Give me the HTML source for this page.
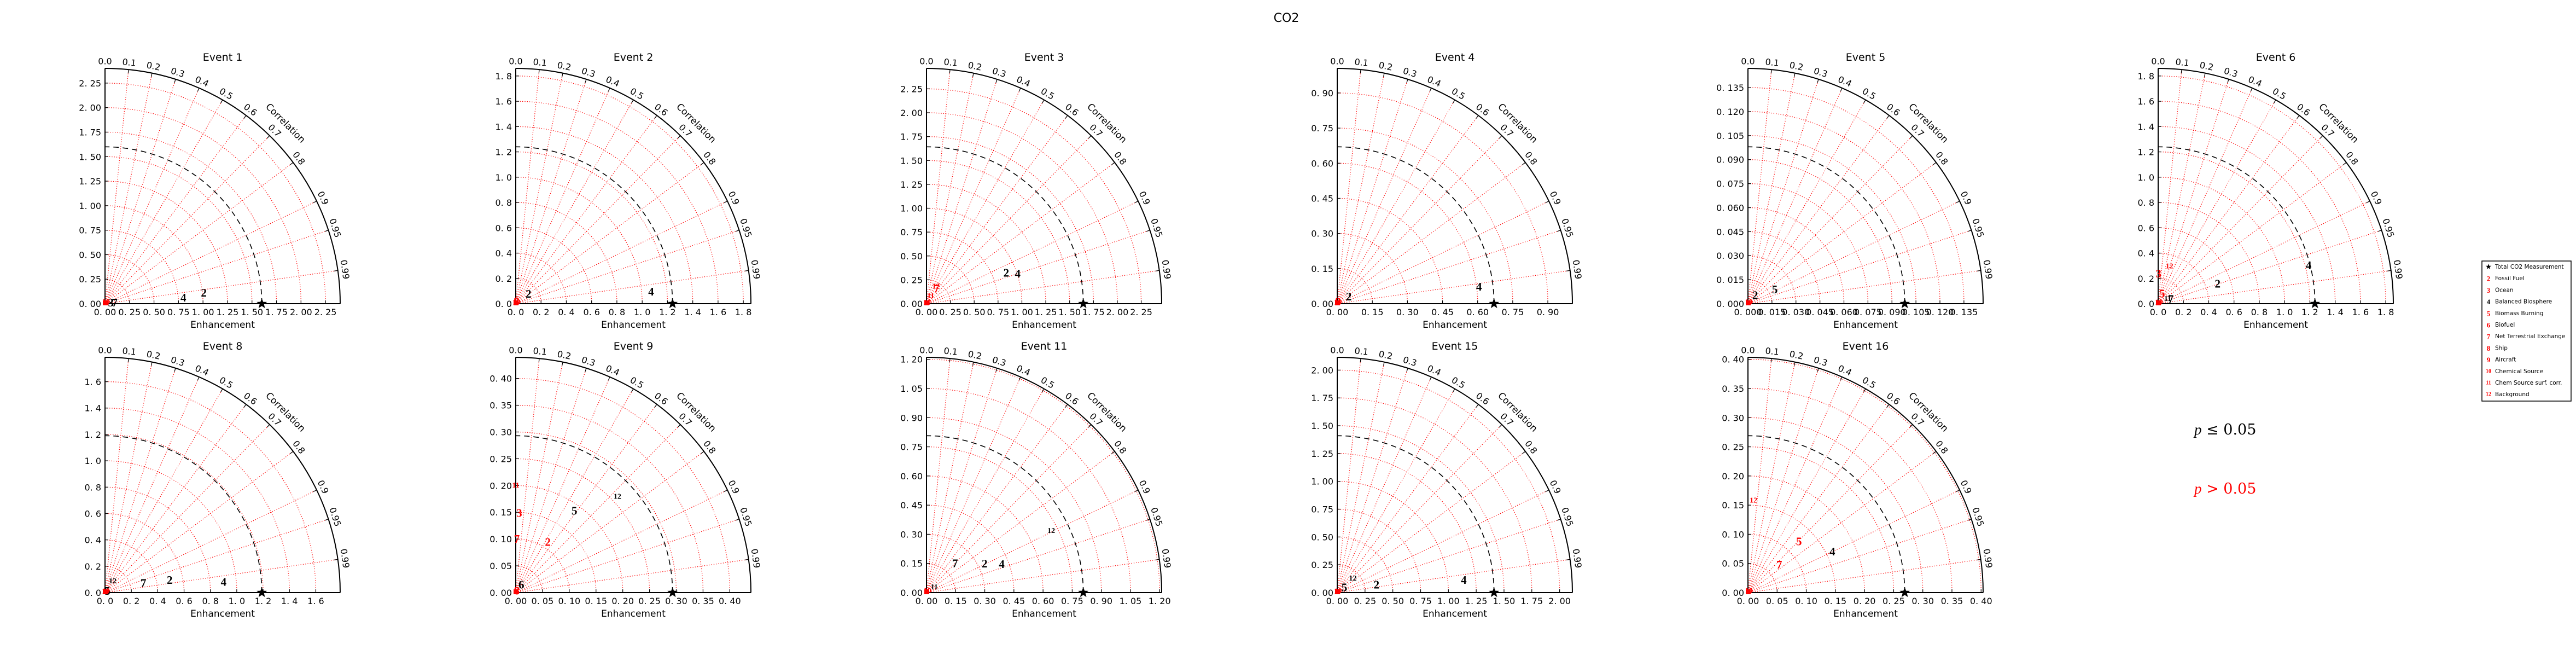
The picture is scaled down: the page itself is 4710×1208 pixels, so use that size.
<!DOCTYPE html>
<html><head><meta charset="utf-8"><title>CO2 Taylor diagrams</title>
<style>
html,body{margin:0;padding:0;background:#fff;}
svg{display:block;}
text{font-family:"DejaVu Sans","Liberation Sans",sans-serif;}
.num{font-family:"Liberation Serif","DejaVu Serif",serif;font-weight:bold;}
</style></head>
<body>
<svg id="chart" xmlns="http://www.w3.org/2000/svg" width="4710" height="1208" viewBox="0 0 4710 1208">
<rect x="0" y="0" width="4710" height="1208" fill="#fff"/>
<text x="2352" y="40" font-size="22" text-anchor="middle">CO2</text>
<g id="plots"></g>
<g id="legend"></g>
<text x="4012" y="794" font-size="27"><tspan font-family="Liberation Serif" font-style="italic">p</tspan><tspan font-family="DejaVu Serif"> ≤ 0.05</tspan></text>
<text x="4012" y="902" font-size="27" fill="#ff0000"><tspan font-family="Liberation Serif" font-style="italic">p</tspan><tspan font-family="DejaVu Serif"> &gt; 0.05</tspan></text>
</svg>
<script>
// ---- data ----
const eventNames = ["Event 1","Event 2","Event 3","Event 4","Event 5","Event 6","Event 8","Event 9","Event 11","Event 15","Event 16"];
const refStd = [1.6, 1.24, 1.643, 0.67, 0.098, 1.24, 1.19, 0.293, 0.807, 1.41, 0.269];
const tickStep = [0.25, 0.2, 0.25, 0.15, 0.015, 0.2, 0.2, 0.05, 0.15, 0.25, 0.05];
const tickDecimals = [2, 1, 2, 2, 3, 1, 1, 2, 2, 2, 2];
const corrTicks = [0, 0.1, 0.2, 0.3, 0.4, 0.5, 0.6, 0.7, 0.8, 0.9, 0.95, 0.99];
const corrTickLabels = ["0.0","0.1","0.2","0.3","0.4","0.5","0.6","0.7","0.8","0.9","0.95","0.99"];

const ptLabels = [
  ["2","4","3","7","11","10"],
  ["2","4","10","8"],
  ["2","4","12","7","11","10"],
  ["4","2","10","8"],
  ["5","2","10"],
  ["4","2","12","3","5","11","7","10"],
  ["4","2","7","12","5","10"],
  ["12","5","2","3","7","11","6","8"],
  ["12","4","2","7","11","10"],
  ["4","2","12","5","10"],
  ["4","5","7","12","10"]
];
const ptStd = [
  [1.014, 0.802, 0.061, 0.10, 0.011, 0.02],
  [0.127, 1.075, 0.01, 0.02],
  [0.897, 1.006, 0.204, 0.19, 0.088, 0.01],
  [0.61, 0.058, 0.005, 0.01],
  [0.019, 0.007, 0.001],
  [1.228, 0.496, 0.308, 0.237, 0.085, 0.084, 0.106, 0.01],
  [0.904, 0.50, 0.30, 0.103, 0.022, 0.01],
  [0.261, 0.188, 0.112, 0.149, 0.10, 0.20, 0.018, 0.004],
  [0.716, 0.414, 0.334, 0.21, 0.048, 0.01],
  [1.144, 0.361, 0.188, 0.079, 0.01],
  [0.161, 0.124, 0.072, 0.158, 0.003]
];
const ptCorr = [
  [0.994, 0.997, 0.98, 0.993, 0.9, 0.5],
  [0.79, 0.996, 0.5, 0.3],
  [0.932, 0.95, 0.49, 0.55, 0.5, 0.5],
  [0.993, 0.85, 0.5, 0.3],
  [0.883, 0.65, 0.5],
  [0.969, 0.948, 0.29, 0.013, 0.37, 0.9, 0.94, 0.5],
  [0.996, 0.982, 0.97, 0.57, 0.85, 0.5],
  [0.728, 0.582, 0.535, 0.044, 0.02, 0.0, 0.58, 0.5],
  [0.897, 0.935, 0.895, 0.70, 0.84, 0.5],
  [0.995, 0.98, 0.745, 0.81, 0.5],
  [0.899, 0.706, 0.747, 0.06, 0.5]
];
const ptSig = [
  [1,1,1,1,0,0],
  [1,1,0,0],
  [1,1,0,0,0,0],
  [1,1,0,0],
  [1,1,0],
  [1,1,0,0,0,1,1,0],
  [1,1,1,1,1,0],
  [1,1,0,0,0,0,1,0],
  [1,1,1,1,1,0],
  [1,1,1,1,0],
  [1,0,0,0,0]
];
const legendLabels = ["Total CO2 Measurement","Fossil Fuel","Ocean","Balanced Biosphere","Biomass Burning","Biofuel","Net Terrestrial Exchange","Ship","Aircraft","Chemical Source","Chem Source surf. corr.","Background"];
const legendMarkers = ["★","2","3","4","5","6","7","8","9","10","11","12"];
const legendRed = [0,1,1,0,1,1,1,1,1,1,1,1];

// ---- layout ----
const NS = "http://www.w3.org/2000/svg";
const R = 430;
const colX = [192, 943, 1694, 2445, 3196, 3946];
const rowY = [555, 1083];
const RED = "#ff0000";

function mk(tag, attrs, parent) {
  const e = document.createElementNS(NS, tag);
  for (const k in attrs) e.setAttribute(k, attrs[k]);
  parent.appendChild(e);
  return e;
}
function starPts(cx, cy, ro, ri) {
  const p = [];
  for (let i = 0; i < 10; i++) {
    const a = -Math.PI / 2 + i * Math.PI / 5;
    const r = i % 2 ? ri : ro;
    p.push((cx + r * Math.cos(a)).toFixed(1) + "," + (cy + r * Math.sin(a)).toFixed(1));
  }
  return p.join(" ");
}

const plots = document.getElementById("plots");
eventNames.forEach((name, i) => {
  const ox = i < 6 ? colX[i] : colX[i - 6];
  const oy = i < 6 ? rowY[0] : rowY[1];
  const maxR = refStd[i] * 1.5;
  const sc = R / maxR;
  const px = (s, c) => ox + s * c * sc;
  const py = (s, c) => oy - s * Math.sqrt(Math.max(0, 1 - c * c)) * sc;
  const g = mk("g", {}, plots);
  
  

  const t = mk("text", {x: ox + R / 2, y: oy - R - 14, "font-size": 19, "text-anchor": "middle"}, g);
  t.textContent = name;
  
  

  const ticks = [];
  for (let k = 0; k * tickStep[i] <= maxR + 1e-9; k++) ticks.push(k * tickStep[i]);

  ticks.forEach(v => {
    if (v <= 0) return;
    const rr = v * sc;
    const a = mk("path", {d: `M${ox + rr},${oy} A${rr},${rr} 0 0 0 ${ox},${oy - rr}`, fill: "none", stroke: RED, "stroke-width": 1.3, "stroke-dasharray": "1.3 3"}, g);
    
    
  });
  corrTicks.forEach(c => {
    if (c === 0) return;
    const l = mk("line", {x1: ox, y1: oy, x2: px(maxR, c), y2: py(maxR, c), stroke: RED, "stroke-width": 1.3, "stroke-dasharray": "1.3 3"}, g);
    
    
  });
  const rr = refStd[i] * sc;
  const da = mk("path", {d: `M${ox + rr},${oy} A${rr},${rr} 0 0 0 ${ox},${oy - rr}`, fill: "none", stroke: "#000", "stroke-width": 1.6, "stroke-dasharray": "10 7"}, g);
  
  

  const outer = mk("path", {d: `M${ox + R},${oy} A${R},${R} 0 0 0 ${ox},${oy - R}`, fill: "none", stroke: "#000", "stroke-width": 2}, g);
  
  
  const xa = mk("line", {x1: ox, y1: oy, x2: ox + R, y2: oy, stroke: "#000", "stroke-width": 2}, g);
  
  
  const ya = mk("line", {x1: ox, y1: oy, x2: ox, y2: oy - R, stroke: "#000", "stroke-width": 2}, g);
  
  

  ticks.forEach(v => {
    const lab = v.toFixed(tickDecimals[i]).replace(".", ". ");
    const xx = ox + v * sc, yy = oy - v * sc;
    mk("line", {x1: xx, y1: oy, x2: xx, y2: oy - 6, stroke: "#000", "stroke-width": 1.2}, g);
    mk("line", {x1: ox, y1: yy, x2: ox + 6, y2: yy, stroke: "#000", "stroke-width": 1.2}, g);
    const tx = mk("text", {x: xx, y: oy + 21, "font-size": 16, "text-anchor": "middle"}, g);
    tx.textContent = lab;
    
    
    const ty = mk("text", {x: ox - 7, y: yy + 6, "font-size": 16, "text-anchor": "end"}, g);
    ty.textContent = lab;
    
    
  });
  const xl = mk("text", {x: ox + R / 2, y: oy + 44, "font-size": 17, "text-anchor": "middle"}, g);
  xl.textContent = "Enhancement";
  
  

  corrTicks.forEach((c, k) => {
    const th = Math.acos(c);
    const cs = Math.cos(th), sn = Math.sin(th);
    mk("line", {x1: ox + R * cs, y1: oy - R * sn, x2: ox + (R - 7) * cs, y2: oy - (R - 7) * sn, stroke: "#000", "stroke-width": 1.2}, g);
    const lr = R + 13;
    const lx = ox + lr * cs, ly = oy - lr * sn;
    const rot = 90 - th * 180 / Math.PI;
    const ct = mk("text", {x: 0, y: 0, "font-size": 16, "text-anchor": "middle", "dominant-baseline": "central", transform: `translate(${lx.toFixed(1)},${ly.toFixed(1)}) rotate(${rot.toFixed(1)})`}, g);
    ct.textContent = corrTickLabels[k];
    
    
  });
  const cr = R + 36;
  const corrT = mk("text", {x: 0, y: 0, "font-size": 17, "text-anchor": "middle", "dominant-baseline": "central", transform: `translate(${(ox + cr * Math.SQRT1_2).toFixed(1)},${(oy - cr * Math.SQRT1_2).toFixed(1)}) rotate(45)`}, g);
  corrT.textContent = "Correlation";
  
  

  const st = mk("polygon", {points: starPts(ox + refStd[i] * sc, oy, 10, 4.2), fill: "#000"}, g);
  
  

  ptLabels[i].forEach((lab, k) => {
    const s = ptStd[i][k], c = ptCorr[i][k];
    const fs = lab.length > 1 ? 14 : 21;
    const p = mk("text", {x: px(s, c).toFixed(1), y: py(s, c).toFixed(1), "font-size": fs, "text-anchor": "middle", "dominant-baseline": "central", fill: ptSig[i][k] ? "#000" : RED, class: "num"}, g);
    p.textContent = lab;
    
    
  });
  const blob = mk("rect", {x: ox - 4, y: oy - 6, width: 9, height: 9, fill: RED}, g);
  
  
});

// legend
const lg = document.getElementById("legend");
const box = mk("rect", {x: 4538, y: 477, width: 163, height: 256, fill: "#fff", stroke: "#000", "stroke-width": 1.5}, lg);


legendLabels.forEach((lab, k) => {
  const y = 488 + k * 21.2;
  const m = mk("text", {x: 4550, y: y, "font-size": legendMarkers[k].length > 1 ? 10 : (k === 0 ? 14 : 13), "text-anchor": "middle", "dominant-baseline": "central", fill: legendRed[k] ? RED : "#000", class: k === 0 ? "" : "num"}, lg);
  m.textContent = legendMarkers[k];
  
  
  const t = mk("text", {x: 4562, y: y, "font-size": 10.5, "dominant-baseline": "central"}, lg);
  t.textContent = lab;
  
  
});
</script>
</body></html>
